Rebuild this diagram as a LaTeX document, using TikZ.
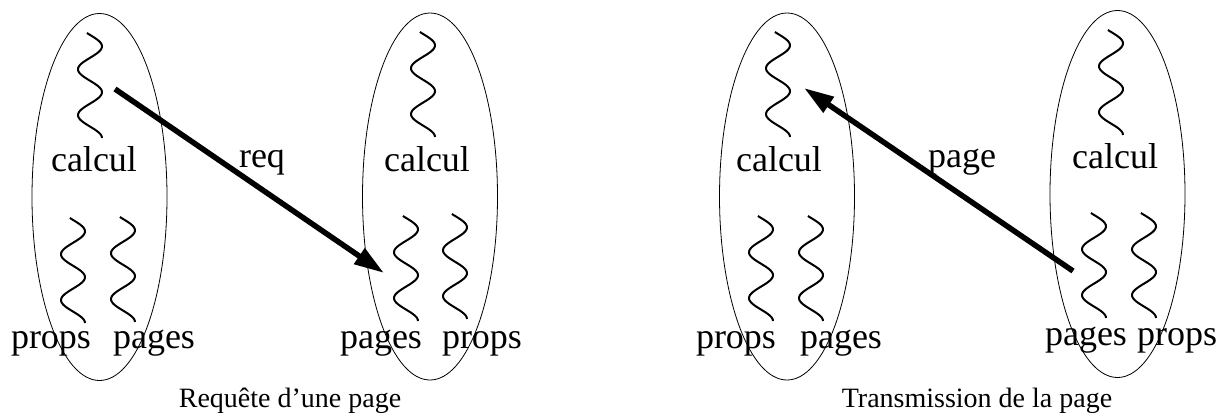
\documentclass[tikz,border=0pt]{standalone}
\usepackage{fontspec}
\setmainfont{Liberation Serif}
\usetikzlibrary{arrows.meta,shapes.geometric}
\begin{document}
\begin{tikzpicture}[x=1pt,y=-1pt,
  procell/.style={draw,ellipse,line width=0.8pt,inner sep=0pt,minimum width=135pt,minimum height=367pt},
  lbl/.style={anchor=base,inner sep=0pt,font=\fontsize{36}{40}\selectfont},
  captext/.style={anchor=base,inner sep=0pt,font=\fontsize{28}{32}\selectfont},
  bigarrow/.style={line width=5.5pt,-{Triangle[length=30pt,width=18pt]}},
  squig/.pic={\draw[line width=2pt] plot[smooth,domain=75:900,samples=90] ({-12*cos(\x)},{(\x-75)*0.127273});}
]
\useasboundingbox (0,0) rectangle (1218,415);
% ellipses
\node[procell] (e1) at (99.5,197) {};
\node[procell] (e2) at (430,196.5) {};
\node[procell] (e3) at (787,196.5) {};
\node[procell] (e4) at (1117.5,194) {};
% squiggles
\pic at (90,33) {squig};
\pic at (73,218) {squig};
\pic at (123,217) {squig};
\pic at (423,32) {squig};
\pic at (406,216) {squig};
\pic at (455,214) {squig};
\pic at (778,32) {squig};
\pic at (761,216) {squig};
\pic at (811,216) {squig};
\pic at (1111,30) {squig};
\pic at (1094,213) {squig};
\pic at (1144,213) {squig};
% labels
\node[lbl] (c1) at (94,171) {calcul};
\node[lbl] (p1a) at (51,348) {props};
\node[lbl] (p1b) at (154,348) {pages};
\node[lbl] (c2) at (427,171) {calcul};
\node[lbl] (p2a) at (381,348) {pages};
\node[lbl] (p2b) at (482,348) {props};
\node[lbl] (c3) at (779,171) {calcul};
\node[lbl] (p3a) at (736,348) {props};
\node[lbl] (p3b) at (841,348) {pages};
\node[lbl] (c4) at (1115,168) {calcul};
\node[lbl] (p4a) at (1086,345) {pages};
\node[lbl] (p4b) at (1177,345) {props};
% arrows
\coordinate (a1s) at (115,89);
\coordinate (a1e) at (384,273);
\coordinate (a2s) at (1073,271);
\coordinate (a2e) at (804,88);
\draw[bigarrow] (a1s) -- (a1e);
\draw[bigarrow] (a2s) -- (a2e);
\node[lbl] (req) at (262,167) {req};
\node[lbl] (pg) at (962,167) {page};
% captions
\node[captext] (cap1) at (290,407) {Requête d’une page};
\node[captext] (cap2) at (977,407) {Transmission de la page};
\end{tikzpicture}
\end{document}
